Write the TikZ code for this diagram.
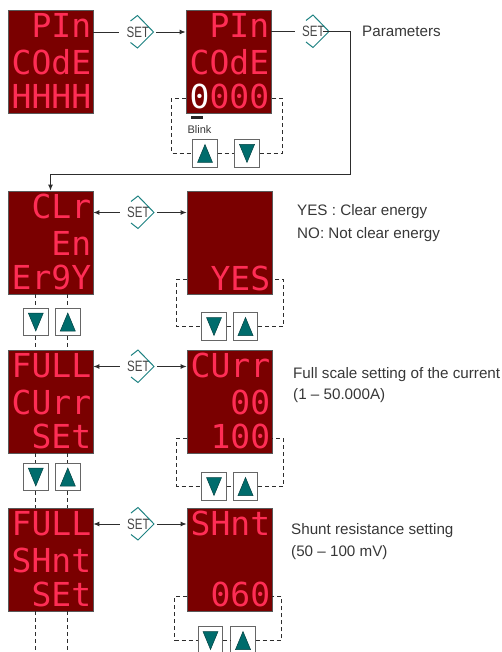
\documentclass[tikz,border=0pt]{standalone}
\usepackage{graphicx}
\usepackage{fontspec}
\setmainfont{Liberation Sans}
\newfontfamily\segfont{DejaVu Sans Mono}
\usetikzlibrary{arrows.meta}
\definecolor{dispbg}{RGB}{122,0,0}
\definecolor{segred}{RGB}{255,45,85}
\definecolor{tealc}{RGB}{0,108,108}
\definecolor{setc}{RGB}{30,130,130}
\definecolor{linec}{RGB}{45,45,45}
\definecolor{txtc}{RGB}{55,55,55}
\tikzset{
 disp/.style={draw=black!65, line width=0.8pt, fill=dispbg, minimum width=85pt, minimum height=103pt, inner sep=0pt},
 seg/.style={font=\segfont\fontsize{33}{33}\selectfont, text=segred, inner sep=0pt, anchor=base east},
 btn/.style={draw=black!60, fill=white, line width=0.8pt, minimum width=24.5pt, minimum height=27.5pt, inner sep=0pt},
 btnup/.style={btn, path picture={\fill[tealc, draw=tealc!60!black, line width=0.5pt, shift={(path picture bounding box.center)}] (-7.5pt,-9pt) -- (7.5pt,-9pt) -- (0pt,9pt) -- cycle;}},
 btndn/.style={btn, path picture={\fill[tealc, draw=tealc!60!black, line width=0.5pt, shift={(path picture bounding box.center)}] (-7.5pt,9pt) -- (7.5pt,9pt) -- (0pt,-9pt) -- cycle;}},
 settxt/.style={font=\fontsize{15}{15}\selectfont, text=black!72, inner xsep=7pt, inner ysep=2pt},
 setshape/.style={draw=setc, line width=1pt},
 conn/.style={draw=linec, line width=0.9pt},
 arr/.style={conn, -{Latex[length=6pt,width=5pt]}},
 dashln/.style={draw=linec, line width=0.8pt, dash pattern=on 4pt off 3pt},
 note/.style={font=\fontsize{15.2}{18}\selectfont, text=txtc, anchor=base west, inner sep=0pt},
 blinktxt/.style={font=\fontsize{11}{11}\selectfont, text=txtc, inner sep=0pt},
}
% SET symbol: #1 name, #2 #3 centre of the word SET
\newcommand\setsym[3]{%
 \node[settxt] (#1) at (#2+5.9,#3) {\scalebox{0.77}[1]{SET}\hspace{11.75pt}};
 \draw[setshape] (#2-1.5,#3-11) -- (#2+5.5,#3-16.5) -- (#2+21.5,#3) -- (#2+5.5,#3+16) -- (#2-1.5,#3+10.5);}
% line of seven-segment text: #1 name, #2 display, #3 baseline offset, #4 text
\newcommand\segline[4]{\node[seg] (#1) at ([xshift=-2pt,yshift=-#3pt]#2.north east) {#4};}
\begin{document}
\begin{tikzpicture}[x=1pt,y=-1pt]
\useasboundingbox (0,0) rectangle (502,652);
\begin{scope}
\clip (0,0) rectangle (502,652);
% displays
\node[disp] (d1) at (50.5,61.5) {};
\node[disp] (d2) at (228.5,61.5) {};
\node[disp] (d3) at (50.5,242.5) {};
\node[disp] (d4) at (229.5,243) {};
\node[disp] (d5) at (50.5,401.5) {};
\node[disp] (d6) at (229.5,401.5) {};
\node[disp] (d7) at (50.5,559.5) {};
\node[disp] (d8) at (229.5,559.5) {};
% display texts
\segline{t1a}{d1}{28}{PIn}
\segline{t1b}{d1}{65}{COdE}
\segline{t1c}{d1}{99}{HHHH}
\segline{t2a}{d2}{28}{PIn}
\segline{t2b}{d2}{65}{COdE}
\segline{t2c}{d2}{99}{{\color{white}0}000}
\segline{t3a}{d3}{28}{CLr}
\segline{t3b}{d3}{65}{En}
\segline{t3c}{d3}{99}{Er9Y}
\segline{t4c}{d4}{99}{YES}
\segline{t5a}{d5}{28}{FULL}
\segline{t5b}{d5}{65}{CUrr}
\segline{t5c}{d5}{99}{SEt}
\segline{t6a}{d6}{28}{CUrr}
\segline{t6b}{d6}{65}{00}
\segline{t6c}{d6}{99}{100}
\segline{t7a}{d7}{28}{FULL}
\segline{t7b}{d7}{65}{SHnt}
\segline{t7c}{d7}{99}{SEt}
\segline{t8a}{d8}{28}{SHnt}
\segline{t8c}{d8}{99}{060}
% blink marker
\fill[black!85] (191,116.5) rectangle (203,119.5);
\node[blinktxt] (blink) at (199.5,130) {Blink};
% SET symbols
\setsym{s1}{132}{32}
\setsym{s2}{307.5}{31.5}
\setsym{s3}{132.5}{212.5}
\setsym{s5}{132.5}{366.5}
\setsym{s7}{132.5}{524}
% buttons
\node[btnup] (b2u) at (205,153.5) {};
\node[btndn] (b2d) at (247,153.5) {};
\node[btndn] (b3d) at (35.8,322) {};
\node[btnup] (b3u) at (67.8,322) {};
\node[btndn] (b4d) at (214,326.5) {};
\node[btnup] (b4u) at (245.5,326.5) {};
\node[btndn] (b5d) at (35.8,477) {};
\node[btnup] (b5u) at (67.8,477) {};
\node[btndn] (b6d) at (214,486.5) {};
\node[btnup] (b6u) at (245.5,486.5) {};
\node[btndn] (b8d) at (210.5,640.5) {};
\node[btnup] (b8u) at (243,640.5) {};
% connectors row 1
\draw[conn] (d1.east |- s1) -- (s1.west);
\draw[arr] (s1.east) -- (d2.west |- s1);
\draw[conn] (d2.east |- s2) -- (s2.west);
\coordinate (lp) at (350,174);
\draw[arr] ([xshift=-9pt]s2.east) -| (lp) -| (d3.north);
% other rows
\draw[arr] (s3.west) -- (d3.east |- s3);
\draw[arr] (s3.east) -- (d4.west |- s3);
\draw[arr] (s5.west) -- (d5.east |- s5);
\draw[arr] (s5.east) -- (d6.west |- s5);
\draw[arr] (s7.west) -- (d7.east |- s7);
\draw[arr] (s7.east) -- (d8.west |- s7);
% dashed loops on the right
\draw[dashln] ([yshift=15pt]d2.south west) -- ++(-14,0) |- (b2u.west);
\draw[dashln] (b2u.east) -- (b2d.west);
\draw[dashln] (b2d.east) -| ([xshift=11pt,yshift=15pt]d2.south east) -- ([yshift=15pt]d2.south east);
\draw[dashln] ([yshift=16pt]d4.south west) -- ++(-10,0) |- (b4d.west);
\draw[dashln] (b4d.east) -- (b4u.west);
\draw[dashln] (b4u.east) -| ([xshift=11pt,yshift=16pt]d4.south east) -- ([yshift=16pt]d4.south east);
\draw[dashln] ([yshift=15pt]d6.south west) -- ++(-10,0) |- (b6d.west);
\draw[dashln] (b6d.east) -- (b6u.west);
\draw[dashln] (b6u.east) -| ([xshift=11pt,yshift=15pt]d6.south east) -- ([yshift=15pt]d6.south east);
\draw[dashln] ([yshift=15pt]d8.south west) -- ++(-12,0) |- (b8d.west);
\draw[dashln] (b8d.east) -- (b8u.west);
\draw[dashln] (b8u.east) -| ([xshift=9pt,yshift=15pt]d8.south east) -- ([yshift=15pt]d8.south east);
% dashed lines on the left
\draw[dashln] (b3d.north |- d3.south) -- (b3d.north);
\draw[dashln] (b3d.south) -- (b3d.south |- d5.north);
\draw[dashln] (b3u.north |- d3.south) -- (b3u.north);
\draw[dashln] (b3u.south) -- (b3u.south |- d5.north);
\draw[dashln] (b5d.north |- d5.south) -- (b5d.north);
\draw[dashln] (b5d.south) -- (b5d.south |- d7.north);
\draw[dashln] (b5u.north |- d5.south) -- (b5u.north);
\draw[dashln] (b5u.south) -- (b5u.south |- d7.north);
\coordinate (e1) at (35.8,660);
\coordinate (e2) at (67.8,660);
\draw[dashln] (e1 |- d7.south) -- (e1);
\draw[dashln] (e2 |- d7.south) -- (e2);
% notes
\node[note] (n1) at (362,36.5) {Parameters};
\node[note] (n2) at (297,215.5) {YES : Clear energy};
\node[note] (n3) at (297,238) {NO: Not clear energy};
\node[note] (n4) at (293,378.5) {Full scale setting of the current};
\node[note] (n5) at (293,399.5) {(1 – 50.000A)};
\node[note] (n6) at (291,534.5) {Shunt resistance setting};
\node[note] (n7) at (291,556.5) {(50 – 100 mV)};
\end{scope}
\end{tikzpicture}
\end{document}
